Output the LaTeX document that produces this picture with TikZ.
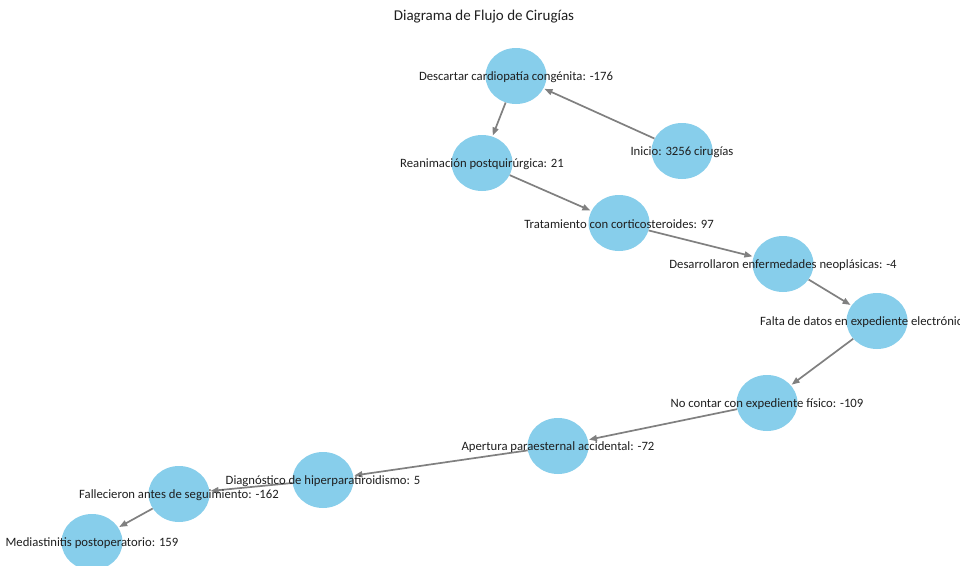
\documentclass[tikz,border=0pt]{standalone}
\usepackage{fontspec}
\setmainfont{Carlito}
\usetikzlibrary{arrows.meta,shapes.geometric}

\definecolor{skyblue}{HTML}{87CEEB}
\definecolor{edgegray}{HTML}{808080}

\tikzset{
	surgnode/.style={ellipse, fill=skyblue, minimum width=61pt, minimum height=56pt, inner sep=0pt},
	surglabel/.style={font=\fontsize{12.7}{14}\selectfont, text=black!88, inner sep=0pt, yshift=-1.5pt},
	flow/.style={draw=edgegray, line width=1.7pt, -{Triangle[length=8pt,width=6pt]}, shorten >=1pt}
}

\begin{document}
\begin{tikzpicture}[x=1pt, y=-1pt]
			%%%%% START %%%%%
			
			\useasboundingbox (0, 0) rectangle (960, 565);
			\clip (0, 0) rectangle (960, 565);
			\fill[white] (0, 0) rectangle (960, 565);
			
			\node[font=\fontsize{15}{17}\selectfont, text=black!88] (title) at (484, 17) {Diagrama de Flujo de Cirugías};
			
			\node[surgnode] (descartar) at (516, 76) {};
			\node[surgnode] (inicio) at (682, 151) {};
			\node[surgnode] (reanim) at (482, 163) {};
			\node[surgnode] (tratam) at (619, 223) {};
			\node[surgnode] (desarr) at (783, 264) {};
			\node[surgnode] (falta) at (877, 321) {};
			\node[surgnode] (nocontar) at (767, 403) {};
			\node[surgnode] (apertura) at (558, 446) {};
			\node[surgnode] (diagn) at (323, 480) {};
			\node[surgnode] (fallec) at (179, 494) {};
			\node[surgnode] (mediast) at (92, 542) {};
			
			\draw[flow] (inicio) -- (descartar);
			\draw[flow] (descartar) -- (reanim);
			\draw[flow] (reanim) -- (tratam);
			\draw[flow] (tratam) -- (desarr);
			\draw[flow] (desarr) -- (falta);
			\draw[flow] (falta) -- (nocontar);
			\draw[flow] (nocontar) -- (apertura);
			\draw[flow] (apertura) -- (diagn);
			\draw[flow] (diagn) -- (fallec);
			\draw[flow] (fallec) -- (mediast);
			
			\node[surglabel] (t-descartar) at (descartar) {Descartar cardiopatía congénita: -176};
			\node[surglabel] (t-inicio) at (inicio) {Inicio: 3256 cirugías};
			\node[surglabel] (t-reanim) at (reanim) {Reanimación postquirúrgica: 21};
			\node[surglabel] (t-tratam) at (tratam) {Tratamiento con corticosteroides: 97};
			\node[surglabel] (t-desarr) at (desarr) {Desarrollaron enfermedades neoplásicas: -4};
			\node[surglabel, anchor=west] (t-falta) at ([xshift=-117pt]falta.center) {Falta de datos en expediente electrónico};
			\node[surglabel] (t-nocontar) at (nocontar) {No contar con expediente físico: -109};
			\node[surglabel] (t-apertura) at (apertura) {Apertura paraesternal accidental: -72};
			\node[surglabel] (t-diagn) at (diagn) {Diagnóstico de hiperparatiroidismo: 5};
			\node[surglabel] (t-fallec) at (fallec) {Fallecieron antes de seguimiento: -162};
			\node[surglabel] (t-mediast) at (mediast) {Mediastinitis postoperatorio: 159};
			
			%%%%% END %%%%%
\end{tikzpicture}
\end{document}
